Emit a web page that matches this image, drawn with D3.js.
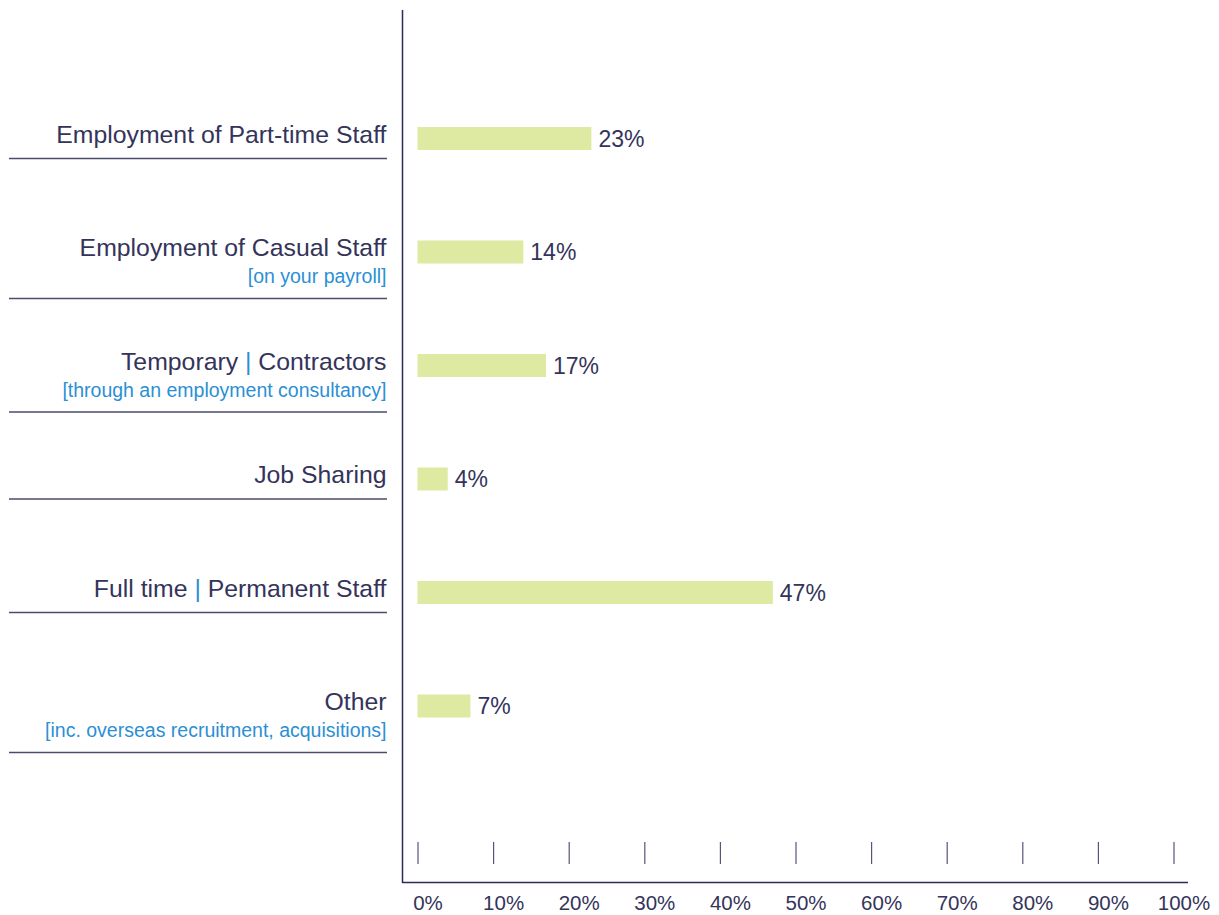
<!DOCTYPE html>
<html>
<head>
<meta charset="utf-8">
<script src="https://cdn.jsdelivr.net/npm/d3@7"></script>
<style>
  body { margin: 0; background: #fff; }
  text { font-family: "Liberation Sans", Arial, sans-serif; }
</style>
</head>
<body>
<script>
// chart data
var categories = ["Employment of Part-time Staff", "Employment of Casual Staff", "Temporary | Contractors",
                  "Job Sharing", "Full time | Permanent Staff", "Other"];
var subLabels = ["", "[on your payroll]", "[through an employment consultancy]", "", "",
                 "[inc. overseas recruitment, acquisitions]"];
var values = [23, 14, 17, 4, 47, 7];
var tickValues = [0, 10, 20, 30, 40, 50, 60, 70, 80, 90, 100];

var navy = "#34345a", blue = "#2b8fd4", barColor = "#dee9a2";

var svg = d3.select("body").append("svg").attr("width", 1219).attr("height", 915);

var x = d3.scaleLinear().domain([0, 100]).range([417.5, 1173.5]);
var y = d3.scaleBand().domain(categories).range([81.75, 762.75]).padding(0);

var rows = categories.map(function(c, i) {
  return {name: c, sub: subLabels[i], value: values[i]};
});

// left labels
var lab = svg.append("g").selectAll("g").data(rows).enter().append("g")
    .attr("transform", function(d) { return "translate(0," + (y(d.name) + y.bandwidth() / 2) + ")"; });

lab.append("text")
    .attr("x", 386.5)
    .attr("y", 4)
    .attr("text-anchor", "end")
    .attr("font-size", "24.8px")
    .attr("fill", navy)
    .each(function(d) {
      var parts = d.name.split(" | "), t = d3.select(this);
      parts.forEach(function(p, j) {
        if (j > 0) t.append("tspan").attr("fill", blue).text(" | ");
        t.append("tspan").text(p);
      });
    });

lab.filter(function(d) { return d.sub; }).append("text")
    .attr("x", 386.5)
    .attr("y", 31)
    .attr("text-anchor", "end")
    .attr("font-size", "19.5px")
    .attr("fill", blue)
    .text(function(d) { return d.sub; });

lab.append("line")
    .attr("x1", 9).attr("x2", 387)
    .attr("y1", function(d) { return d.sub ? 46.5 : 20; })
    .attr("y2", function(d) { return d.sub ? 46.5 : 20; })
    .attr("stroke", "#4b4b6b")
    .attr("stroke-width", 1.5);

// bars
svg.append("g").selectAll("rect").data(rows).enter().append("rect")
    .attr("x", x(0))
    .attr("y", function(d) { return y(d.name) + y.bandwidth() / 2 - 11.5; })
    .attr("width", function(d) { return x(d.value) - x(0); })
    .attr("height", 23)
    .attr("fill", barColor);

svg.append("g").selectAll("text").data(rows).enter().append("text")
    .attr("x", function(d) { return x(d.value) + 7; })
    .attr("y", function(d) { return y(d.name) + y.bandwidth() / 2 + 8; })
    .attr("font-size", "23px")
    .attr("fill", navy)
    .text(function(d) { return d.value + "%"; });

// tick marks + labels
var ax = svg.append("g")
    .attr("transform", "translate(0,842)")
    .call(d3.axisBottom(x).tickValues(tickValues).tickSize(22).tickFormat(function(d) { return d + "%"; }));
ax.select(".domain").remove();
ax.selectAll(".tick line").attr("stroke", "#55557a").attr("stroke-width", 1.2);
ax.selectAll(".tick text")
    .attr("x", 10)
    .attr("y", 68)
    .attr("dy", null)
    .attr("font-size", "20.5px")
    .attr("font-family", "Liberation Sans, Arial, sans-serif")
    .attr("fill", navy);

// frame lines
svg.append("line")
    .attr("x1", 402.5).attr("x2", 402.5).attr("y1", 10).attr("y2", 883)
    .attr("stroke", "#2b2b5e").attr("stroke-width", 1.5);
svg.append("line")
    .attr("x1", 402).attr("x2", 1188).attr("y1", 882.5).attr("y2", 882.5)
    .attr("stroke", "#2b2b5e").attr("stroke-width", 1.5);
</script>
</body>
</html>
